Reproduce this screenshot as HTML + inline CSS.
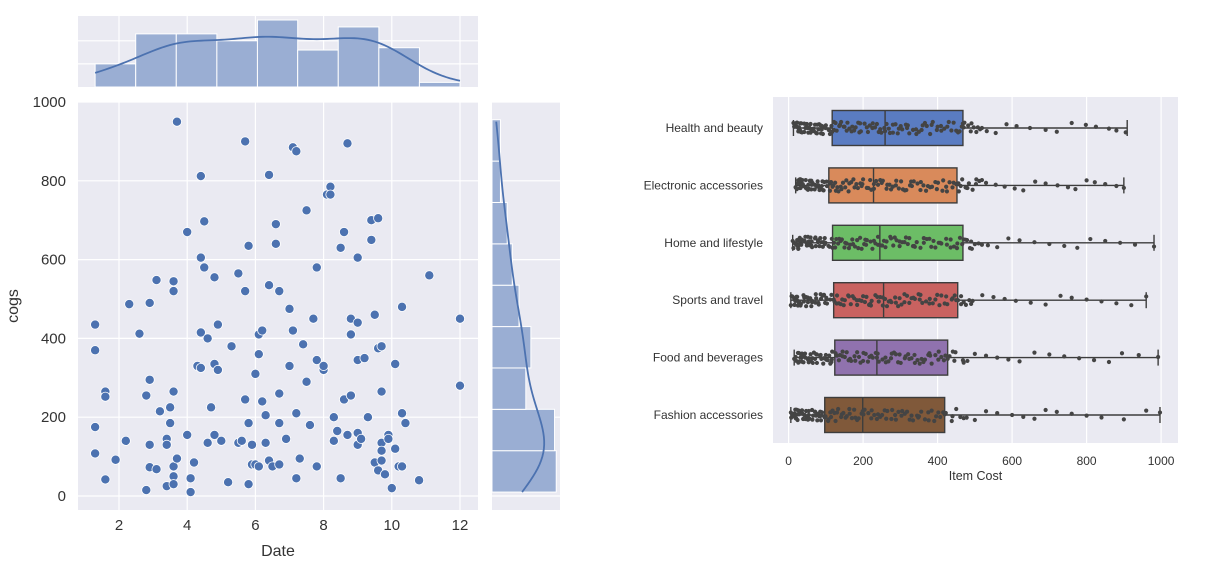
<!DOCTYPE html>
<html><head><meta charset="utf-8">
<style>
body{margin:0;background:#fff;width:1216px;height:575px;overflow:hidden;font-family:"Liberation Sans","DejaVu Sans",sans-serif;}
svg{display:block}
</style></head>
<body>
<svg id="chart" width="1216" height="575" xmlns="http://www.w3.org/2000/svg"></svg>
<script>
// ---------- Joint plot data ----------
const dateVals=[1.3,1.3,1.3,1.3,1.6,1.6,1.6,1.9,2.2,2.3,2.6,2.8,2.8,2.9,2.9,2.9,2.9,3.1,3.1,3.2,3.4,3.4,3.4,3.5,3.5,3.6,3.6,3.6,3.6,3.6,3.6,3.7,3.7,4.0,4.0,4.1,4.1,4.2,4.3,4.4,4.4,4.4,4.4,4.5,4.5,4.6,4.6,4.7,4.8,4.8,4.8,4.9,4.9,5.0,5.2,5.3,5.5,5.5,5.6,5.7,5.7,5.7,5.8,5.8,5.8,5.9,5.9,6.0,6.0,6.1,6.1,6.1,6.2,6.2,6.3,6.3,6.4,6.4,6.4,6.5,6.6,6.6,6.7,6.7,6.7,6.7,6.9,7.0,7.0,7.1,7.1,7.2,7.2,7.2,7.3,7.4,7.5,7.5,7.6,7.7,7.8,7.8,7.8,8.0,8.0,8.1,8.2,8.2,8.3,8.3,8.4,8.5,8.5,8.6,8.6,8.7,8.7,8.8,8.8,8.8,9.0,9.0,9.0,9.0,9.0,9.1,9.2,9.3,9.4,9.4,9.5,9.5,9.6,9.6,9.6,9.7,9.7,9.7,9.7,9.7,9.8,9.9,9.9,10.0,10.1,10.1,10.2,10.3,10.3,10.3,10.4,10.8,11.1,12.0,12.0];
const cogsVals=[435,370,175,108,265,252,42,92,140,487,412,255,15,490,295,130,73,548,68,215,145,130,25,225,185,545,520,265,75,50,30,950,95,670,155,45,10,85,330,812,605,415,325,580,697,400,135,225,335,555,155,435,320,140,35,380,565,135,140,900,520,245,635,185,30,130,80,310,80,410,360,75,420,240,205,135,815,535,90,75,690,640,520,260,185,80,145,330,475,885,420,875,210,45,95,385,725,290,180,450,580,345,75,320,330,765,785,765,140,200,165,630,45,670,245,895,155,450,410,255,605,440,345,130,160,145,350,200,700,650,460,85,705,375,65,380,135,115,90,265,55,155,145,20,335,120,75,75,210,480,185,40,560,450,280];
const xTicks=[2,4,6,8,10,12];
const yTicks=[0,200,400,600,800,1000];
const topHistCounts=[10,23,23,20,29,16,26,17,2];
const topHistEdges=[1.3,2.49,3.68,4.87,6.06,7.24,8.43,9.62,10.81,12.0];
const rightHistCounts=[38,37,20,23,16,12,9,5,5];
const rightHistEdges=[10,115,220,325,430,535,640,745,850,955];

// ---------- Box/strip data ----------
const categories=["Health and beauty","Electronic accessories","Home and lifestyle","Sports and travel","Food and beverages","Fashion accessories"];
const boxColors=["#5a7cc2","#d98a5b","#6cbd66","#c96260","#9072ae","#80593a"];
const whiskLo=[13,19,11,6,15,6];
const q1=[117,108,118,121,124,97];
const med=[259,228,245,255,237,199];
const q3=[468,452,468,454,427,419];
const whiskHi=[909,900,981,960,992,997];
const costTicks=[0,200,400,600,800,1000];
const stripHealth=[13,18,22,27,31,36,42,48,55,61,68,74,82,90,99,108,117,126,138,150,163,176,190,204,218,232,246,259,272,287,301,318,334,350,366,384,400,418,437,455,468,482,497,514,532,556,585,612,648,690,720,760,798,825,860,880,905];
const stripElectronic=[19,22,26,30,35,40,46,52,58,64,70,77,85,94,102,111,120,131,142,155,168,182,196,210,222,235,250,265,280,296,312,329,346,362,380,398,415,432,450,462,478,494,512,530,556,580,607,630,662,690,722,750,770,800,822,850,880,900];
const stripHome=[11,15,20,25,30,36,42,49,56,63,71,79,88,97,107,118,128,140,152,165,178,192,206,220,233,246,260,275,290,305,320,337,354,371,389,407,425,444,460,475,490,510,535,560,590,620,660,700,740,775,810,850,890,930,981];
const stripSports=[6,10,15,21,27,33,40,47,55,63,72,81,91,101,112,123,135,148,162,176,190,205,219,233,246,259,273,288,303,318,335,352,369,387,405,423,440,455,470,490,520,550,580,610,650,690,730,760,800,840,880,920,960];
const stripFood=[15,20,26,32,38,45,52,60,68,76,85,95,105,115,126,138,151,165,179,193,207,222,237,252,268,283,298,314,330,346,362,378,394,410,427,445,470,500,530,560,590,620,660,700,740,780,820,860,895,940,992];
const stripFashion=[6,10,14,19,24,30,36,42,49,56,63,71,79,88,97,107,118,130,143,156,170,184,199,214,230,246,262,278,295,312,330,348,366,384,402,419,440,470,500,530,560,600,630,660,690,720,760,800,840,900,960,997];
const strips=[stripHealth,stripElectronic,stripHome,stripSports,stripFood,stripFashion];

const NS="http://www.w3.org/2000/svg";
const svg=document.getElementById('chart');
function mk(tag,attrs,parent){const e=document.createElementNS(NS,tag);for(const k in attrs)e.setAttribute(k,attrs[k]);(parent||svg).appendChild(e);return e;}

const MX0=78,MX1=478,MY0=102,MY1=510;
const sx=v=>119+(v-2)*34.1;
const sy=v=>496-v*0.394;
const TY0=16,TY1=87;
const RX0=492,RX1=560;
const topScale=2.31, rightScale=1.69;

const mainG=mk('g',{});


mk('rect',{x:MX0,y:MY0,width:MX1-MX0,height:MY1-MY0,fill:'#eaeaf2'},mainG);
xTicks.forEach(t=>{
  const l=mk('line',{x1:sx(t),x2:sx(t),y1:MY0,y2:MY1,stroke:'#fff','stroke-width':1.2},mainG);
  
  const tx=mk('text',{x:sx(t),y:MY1+20,'text-anchor':'middle','font-size':15,fill:'#333'},mainG);
  tx.textContent=t;
  
});
yTicks.forEach(t=>{
  const l=mk('line',{x1:MX0,x2:MX1,y1:sy(t),y2:sy(t),stroke:'#fff','stroke-width':1.2},mainG);
  
  const tx=mk('text',{x:MX0-12,y:sy(t)+5,'text-anchor':'end','font-size':15,fill:'#333'},mainG);
  tx.textContent=t;
  
});
dateVals.forEach((d,i)=>{
  const c=mk('circle',{cx:sx(d),cy:sy(cogsVals[i]),r:4.6,fill:'#4c72b0',stroke:'#fff','stroke-width':0.8},mainG);
  
});
const xl=mk('text',{x:(MX0+MX1)/2,y:556,'text-anchor':'middle','font-size':16,fill:'#333'});
xl.textContent='Date';

const yl=mk('text',{x:18,y:306,'text-anchor':'middle','font-size':16,fill:'#333',transform:'rotate(-90 18 306)'});
yl.textContent='cogs';


function kde(vals,grid){const n=vals.length;const m=vals.reduce((a,b)=>a+b,0)/n;
  const sd=Math.sqrt(vals.reduce((a,b)=>a+(b-m)*(b-m),0)/(n-1));const h=sd*Math.pow(n,-0.2);
  return grid.map(g=>vals.reduce((a,v)=>a+Math.exp(-0.5*((g-v)/h)**2),0)/(n*h*Math.sqrt(2*Math.PI)));}

const topG=mk('g',{});


mk('rect',{x:MX0,y:TY0,width:MX1-MX0,height:TY1-TY0,fill:'#eaeaf2'},topG);
xTicks.forEach(t=>{mk('line',{x1:sx(t),x2:sx(t),y1:TY0,y2:TY1,stroke:'#fff','stroke-width':1.2},topG);});
[10,20].forEach(c=>{mk('line',{x1:MX0,x2:MX1,y1:TY1-c*topScale,y2:TY1-c*topScale,stroke:'#fff','stroke-width':1.2},topG);});
topHistCounts.forEach((c,i)=>{
  const x0=sx(topHistEdges[i]),x1=sx(topHistEdges[i+1]);
  const r=mk('rect',{x:x0,y:TY1-c*topScale,width:x1-x0,height:c*topScale,fill:'#9aaed3',stroke:'#fff','stroke-width':1},topG);
  
});
{const bw=topHistEdges[1]-topHistEdges[0];const g=[];for(let v=1.3;v<=12.0001;v+=0.1)g.push(v);
 const d=kde(dateVals,g);const p=g.map((v,i)=>(i?'L':'M')+sx(v)+','+(TY1-d[i]*dateVals.length*bw*topScale)).join('');
 const k=mk('path',{d:p,fill:'none',stroke:'#4c72b0','stroke-width':1.8},topG);
 }

const rtG=mk('g',{});


mk('rect',{x:RX0,y:MY0,width:RX1-RX0,height:MY1-MY0,fill:'#eaeaf2'},rtG);
yTicks.forEach(t=>{mk('line',{x1:RX0,x2:RX1,y1:sy(t),y2:sy(t),stroke:'#fff','stroke-width':1.2},rtG);});
rightHistCounts.forEach((c,i)=>{
  const y0=sy(rightHistEdges[i+1]),y1=sy(rightHistEdges[i]);
  const r=mk('rect',{x:RX0,y:y0,width:c*rightScale,height:y1-y0,fill:'#9aaed3',stroke:'#fff','stroke-width':1},rtG);
  
});
{const bw=rightHistEdges[1]-rightHistEdges[0];const g=[];for(let v=10;v<=955;v+=10)g.push(v);
 const d=kde(cogsVals,g);const p=g.map((v,i)=>(i?'L':'M')+(RX0+d[i]*cogsVals.length*bw*rightScale)+','+sy(v)).join('');
 const k=mk('path',{d:p,fill:'none',stroke:'#4c72b0','stroke-width':1.8},rtG);
 }

const BX0=773,BX1=1178,BY0=97,BY1=443;
const cx=v=>788.6+v*0.3725;
const cy=i=>128+i*57.4;
const boxG=mk('g',{});


mk('rect',{x:BX0,y:BY0,width:BX1-BX0,height:BY1-BY0,fill:'#eaeaf2'},boxG);
costTicks.forEach(t=>{
  const l=mk('line',{x1:cx(t),x2:cx(t),y1:BY0,y2:BY1,stroke:'#fff','stroke-width':1.2},boxG);
  
  const tx=mk('text',{x:cx(t),y:BY1+22,'text-anchor':'middle','font-size':12,fill:'#333'},boxG);
  tx.textContent=t;
  
});
const cl=mk('text',{x:(BX0+BX1)/2,y:480,'text-anchor':'middle','font-size':12.5,fill:'#333'});
cl.textContent='Item Cost';

categories.forEach((c,i)=>{
  const y=cy(i),h=35;
  const lab=mk('text',{x:BX0-10,y:y+4,'text-anchor':'end','font-size':12,fill:'#333'},boxG);
  lab.textContent=c;
  
  const g=mk('g',{},boxG);
  
  
  mk('line',{x1:cx(whiskLo[i]),x2:cx(q1[i]),y1:y,y2:y,stroke:'#3d3d3d','stroke-width':1.4},g);
  mk('line',{x1:cx(q3[i]),x2:cx(whiskHi[i]),y1:y,y2:y,stroke:'#3d3d3d','stroke-width':1.4},g);
  mk('line',{x1:cx(whiskLo[i]),x2:cx(whiskLo[i]),y1:y-8,y2:y+8,stroke:'#3d3d3d','stroke-width':1.4},g);
  mk('line',{x1:cx(whiskHi[i]),x2:cx(whiskHi[i]),y1:y-8,y2:y+8,stroke:'#3d3d3d','stroke-width':1.4},g);
  mk('rect',{x:cx(q1[i]),y:y-h/2,width:cx(q3[i])-cx(q1[i]),height:h,fill:boxColors[i],stroke:'#3d3d3d','stroke-width':1.4},g);
  mk('line',{x1:cx(med[i]),x2:cx(med[i]),y1:y-h/2,y2:y+h/2,stroke:'#3d3d3d','stroke-width':1.4},g);
  strips[i].forEach((v,j)=>{
    const jit=(((j*37+i*11)%17)/16-0.5)*10;
    [0,1,2].forEach(k=>{
      const vv=v+(k-1)*((j*7+k*13)%9+2);
      if(vv<whiskLo[i]||vv>whiskHi[i])return;
      const jj=(((j*13+k*29+i*5)%19)/18-0.5)*12;
      if(v>q3[i]+60&&k!==1)return;
      const p=mk('circle',{cx:cx(vv),cy:y+(k===1?jit:jj),r:2.1,fill:'#444'},g);
      
    });
  });
});
</script>
</body></html>
